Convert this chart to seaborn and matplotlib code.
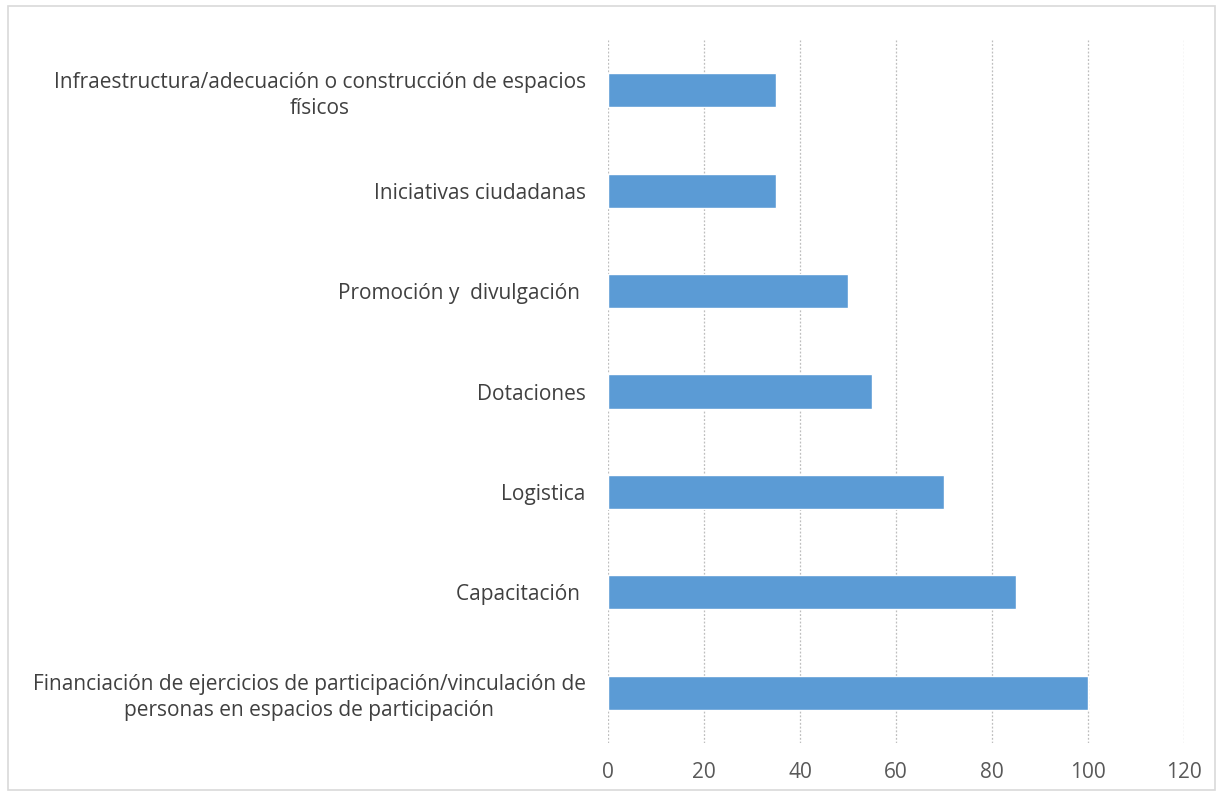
import matplotlib
matplotlib.use('Agg')
import matplotlib.pyplot as plt
import seaborn as sns
import pandas as pd
from matplotlib.patches import Rectangle

# Data (top to bottom as in the chart)
categories = [
    'Infraestructura/adecuación o construcción de espacios\nfísicos',
    'Iniciativas ciudadanas',
    'Promoción y  divulgación ',
    'Dotaciones',
    'Logistica',
    'Capacitación ',
    'Financiación de ejercicios de participación/vinculación de\npersonas en espacios de participación',
]
values = [35, 35, 50, 55, 70, 85, 100]
x_ticks = [0, 20, 40, 60, 80, 100, 120]

df = pd.DataFrame({'categoria': categories, 'valor': values})

sns.set_style('white')
plt.rcParams['font.family'] = ['Open Sans', 'DejaVu Sans']

fig = plt.figure(figsize=(12.19, 7.96), dpi=100)
ax = fig.add_axes([0.4988, 0.0666, 0.4725, 0.8831])

sns.barplot(data=df, x='valor', y='categoria', color='#5B9BD5', width=0.34,
            saturation=1, ax=ax, orient='h')

ax.set_xlim(0, 120)
ax.set_xticks(x_ticks)
ax.set_xlabel('')
ax.set_ylabel('')
ax.xaxis.grid(True, color='#BEBEBE', linestyle=(0, (1.5, 1.5)), linewidth=0.9)
ax.set_axisbelow(True)
for s in ax.spines.values():
    s.set_visible(False)
ax.tick_params(axis='both', length=0, colors='#595959', labelsize=15)
ax.tick_params(axis='y', pad=16)
ax.tick_params(axis='x', pad=14)
for lbl in ax.get_yticklabels():
    lbl.set_multialignment('center')
    lbl.set_linespacing(1.3)
    lbl.set_color('#404040')

# light frame around the chart
fig.patches.append(Rectangle((8 / 1219, 6 / 796), 1207 / 1219, 784 / 796,
                             transform=fig.transFigure, fill=False,
                             edgecolor='#D9D9D9', linewidth=1.2))

fig.savefig('out.png', dpi=100)
